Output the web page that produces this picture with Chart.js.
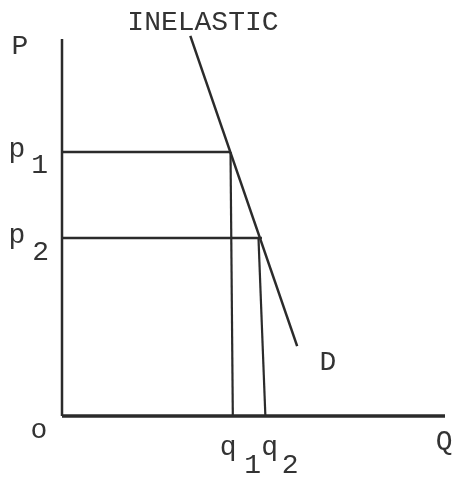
<!DOCTYPE html>
<html>
<head>
<meta charset="utf-8">
<script src="https://cdn.jsdelivr.net/npm/chart.js@4/dist/chart.umd.min.js"></script>
<style>
  html, body { margin: 0; padding: 0; background: #ffffff; }
  #wrap { width: 459px; height: 480px; position: relative; }
</style>
</head>
<body>
<div id="wrap"><canvas id="c"></canvas></div>
<script>
// ---- data (economic diagram, arbitrary units) ----
const demandQ = [3.35, 6.14];          // demand curve endpoints (quantity)
const demandP = [9.85, 1.81];          // demand curve endpoints (price)
const priceLevels = [6.84, 4.61];      // p1, p2
const priceLineEnds = [4.40, 5.22];    // where the horizontal price lines stop
const qTopX = [4.40, 5.13];            // q1, q2 at the price level
const qBottomX = [4.46, 5.31];         // q1, q2 at the Q axis
const axisPTop = 9.77;                 // top of the P axis
const axisQEnd = 10;                   // end of the Q axis

const INK = '#2b2b2b';
const TXT = '#333333';

const datasets = [];
// axes
datasets.push({ data: [{x: 0, y: axisPTop}, {x: 0, y: 0}], borderWidth: 2.5 });
datasets.push({ data: [{x: 0, y: 0}, {x: axisQEnd, y: 0}], borderWidth: 3.5 });
// demand curve
datasets.push({ data: [{x: demandQ[0], y: demandP[0]}, {x: demandQ[1], y: demandP[1]}], borderWidth: 2.5 });
// price lines and quantity drops
for (let i = 0; i < priceLevels.length; i++) {
  datasets.push({ data: [{x: 0, y: priceLevels[i]}, {x: priceLineEnds[i], y: priceLevels[i]}], borderWidth: 2.5 });
  datasets.push({ data: [{x: qTopX[i], y: priceLevels[i]}, {x: qBottomX[i], y: 0}], borderWidth: 2.2 });
}
datasets.forEach(d => {
  d.showLine = true; d.pointRadius = 0; d.borderColor = INK; d.clip = false;
  d.borderCapStyle = 'butt';
});

// text labels: [text, subscript, x, y, subX, subY, align]
const labels = [
  ['INELASTIC', '', 3.68, 10.0, 0, 0, 'center'],
  ['P', '', -1.32, 9.38, 0, 0, 'left'],
  ['p', '1', -1.40, 6.71, -0.80, 6.30, 'left'],
  ['p', '2', -1.40, 4.48, -0.78, 4.04, 'left'],
  ['o', '', -0.82, -0.57, 0, 0, 'left'],
  ['q', '1', 4.12, -1.01, 4.76, -1.48, 'left'],
  ['q', '2', 5.20, -1.01, 5.74, -1.48, 'left'],
  ['D', '', 6.72, 1.19, 0, 0, 'left'],
  ['Q', '', 9.76, -0.85, 0, 0, 'left']
];

const textPlugin = {
  id: 'textLabels',
  afterDraw(chart) {
    const ctx = chart.ctx, xs = chart.scales.x, ys = chart.scales.y;
    ctx.save();
    ctx.fillStyle = TXT;
    ctx.font = '28px "Liberation Mono", "Courier New", monospace';
    ctx.textBaseline = 'alphabetic';
    labels.forEach(([t, sub, x, y, sx, sy, align]) => {
      ctx.textAlign = align;
      ctx.fillText(t, xs.getPixelForValue(x), ys.getPixelForValue(y));
      if (sub) {
        ctx.textAlign = 'left';
        ctx.fillText(sub, xs.getPixelForValue(sx), ys.getPixelForValue(sy));
      }
    });
    ctx.restore();
  }
};

new Chart(document.getElementById('c'), {
  type: 'scatter',
  data: { datasets },
  options: {
    responsive: true,
    maintainAspectRatio: false,
    animation: false,
    layout: { padding: { left: 62, right: 14, top: 30, bottom: 64 } },
    plugins: { legend: { display: false }, tooltip: { enabled: false } },
    scales: {
      x: { type: 'linear', min: 0, max: 10, display: false },
      y: { type: 'linear', min: 0, max: 10, display: false }
    }
  },
  plugins: [textPlugin]
});
</script>
</body>
</html>
